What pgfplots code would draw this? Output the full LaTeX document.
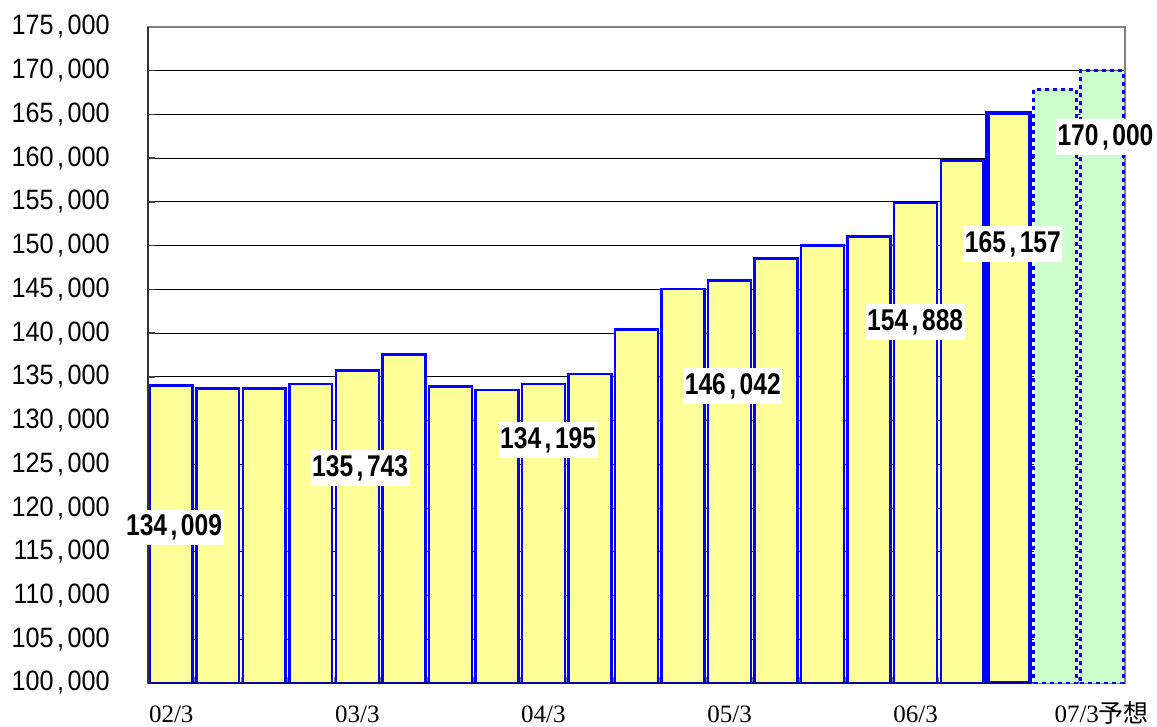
\documentclass[border=0pt]{standalone}
\usepackage{fontspec}
\setmainfont{Liberation Sans}
\newfontfamily\tickfont[FakeStretch=0.9]{Liberation Sans}
\newfontfamily\labfont[FakeStretch=0.82]{Liberation Sans}
\newfontfamily\seriffont{Liberation Serif}
\newfontfamily\cjk{Noto Sans CJK JP}
\usepackage{pgfplots}
\pgfplotsset{compat=1.18}
\definecolor{barY}{HTML}{FFFF99}
\definecolor{barG}{HTML}{CCFFCC}
\newcommand\cm{\kern3.5pt,\kern3.5pt}
\begin{document}
\begin{tikzpicture}
\useasboundingbox (0,0) rectangle (1157pt,726pt);
\begin{axis}[
  at={(148pt,43pt)}, anchor=south west,
  scale only axis, width=977pt, height=656pt,
  xmin=-0.5, xmax=20.5, ymin=100000, ymax=175000,
  scaled y ticks=false,
  clip mode=individual,
  bar width=0.92,
  ytick={100000,105000,...,175000},
  yticklabels={100\cm000,105\cm000,110\cm000,115\cm000,120\cm000,125\cm000,130\cm000,135\cm000,140\cm000,145\cm000,150\cm000,155\cm000,160\cm000,165\cm000,170\cm000,175\cm000},
  xtick={0,4,8,12,16,20},
  xticklabels={02/3,03/3,04/3,05/3,06/3,07/3{\cjk 予想}},
  minor xtick={0.5,1.5,...,19.5},
  tick pos=left,
  tick align=inside,
  major tick length=7pt,
  minor tick length=6pt,
  major x tick style={draw=none},
  minor x tick style={gray, line width=1pt},
  major y tick style={black!75, line width=1.5pt},
  ymajorgrids,
  grid style={black, line width=1pt},
  axis line style={gray, line width=1.5pt},
  y tick label style={font=\tickfont\fontsize{28}{28}\selectfont, anchor=east, inner sep=0pt, xshift=-38pt},
  x tick label style={font=\seriffont\fontsize{25}{25}\selectfont, anchor=base, inner sep=0pt, yshift=-39pt},
]
\addplot[ybar, fill=barY, draw=blue, line width=2.5pt] coordinates {
  (0,134009) (1,133650) (2,133680) (3,134200) (4,135743) (5,137580)
  (6,133890) (7,133520) (8,134195) (9,135340) (10,140420) (11,145070)
  (12,146042) (13,148560) (14,150030) (15,151060) (16,154888) (17,159720)
};
\addplot[ybar, fill=barY, draw=blue, line width=4.5pt] coordinates {(18,165157)};
\addplot[ybar, fill=barG, draw=blue, line width=3pt, dash pattern=on 4pt off 4pt] coordinates {(19,167900) (20,170000)};
\draw[black!80, line width=2pt] (rel axis cs:0,0) -- (rel axis cs:0,1);
\draw[blue!60!black, line width=2pt] (rel axis cs:0,0) -- (axis cs:18.5,100000);
\tikzset{lab/.style={fill=white, inner xsep=1.5pt, inner ysep=5pt, font=\labfont\bfseries\fontsize{30}{30}\selectfont}}
\node[lab] at (axis cs:0.06,117778) {134\cm009};
\node[lab] at (axis cs:4.06,124580) {135\cm743};
\node[lab] at (axis cs:8.10,127781) {134\cm195};
\node[lab] at (axis cs:12.07,133954) {146\cm042};
\node[lab] at (axis cs:15.99,141271) {154\cm888};
\node[lab] at (axis cs:18.09,150189) {165\cm157};
\node[lab] at (axis cs:20.08,162421) {170\cm000};
\end{axis}
\end{tikzpicture}
\end{document}
